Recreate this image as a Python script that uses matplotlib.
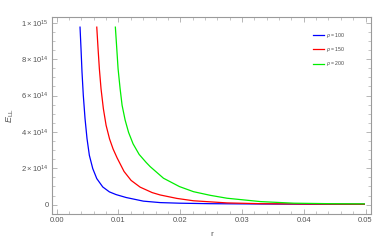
import matplotlib
matplotlib.use("Agg")
import matplotlib.pyplot as plt
from matplotlib.ticker import MultipleLocator, FixedLocator

plt.rcParams['font.family'] = ['Liberation Sans', 'DejaVu Sans']
plt.rcParams['mathtext.fontset'] = 'custom'
plt.rcParams['mathtext.rm'] = 'Liberation Sans'
plt.rcParams['mathtext.it'] = 'Liberation Sans:italic'

# data (E in units of 1e15)
r_100 = [0.00378, 0.00394, 0.0041, 0.00431, 0.00459, 0.00491, 0.00529, 0.00584, 0.00649, 0.00746,
         0.00853, 0.00962, 0.01124, 0.01404, 0.01675, 0.01988, 0.02486, 0.033, 0.0411, 0.0498]
E_100 = [0.976, 0.857, 0.729, 0.601, 0.473, 0.363, 0.271, 0.198, 0.143, 0.097,
         0.070, 0.055, 0.039, 0.019, 0.011, 0.0077, 0.005, 0.0033, 0.0022, 0.0016]

r_150 = [0.00649, 0.0067, 0.00691, 0.00718, 0.00756, 0.008, 0.00856, 0.00913, 0.00978, 0.01091,
         0.01205, 0.01351, 0.01546, 0.01675, 0.01946, 0.02215, 0.02757, 0.033, 0.0395, 0.0498]
E_150 = [0.976, 0.857, 0.747, 0.637, 0.527, 0.436, 0.361, 0.306, 0.257, 0.182,
         0.133, 0.096, 0.066, 0.053, 0.034, 0.021, 0.0093, 0.005, 0.0033, 0.0022]

r_200 = [0.0095, 0.00973, 0.00994, 0.01027, 0.01059, 0.01108, 0.01164, 0.01237, 0.01335, 0.01448,
         0.01513, 0.01729, 0.01988, 0.02215, 0.02486, 0.02757, 0.033, 0.0384, 0.0443, 0.0498]
E_200 = [0.976, 0.857, 0.747, 0.637, 0.546, 0.465, 0.397, 0.334, 0.276, 0.232,
         0.209, 0.145, 0.099, 0.071, 0.051, 0.035, 0.0165, 0.0077, 0.005, 0.004]

labels = [r"$\rho$ = 100", r"$\rho$ = 150", r"$\rho$ = 200"]
colors = ["#0000ff", "#ff0000", "#00ee00"]
yticks = [0, 0.2, 0.4, 0.6, 0.8, 1.0]
yticklabels = ["0", r"$2\times10^{14}$", r"$4\times10^{14}$", r"$6\times10^{14}$", r"$8\times10^{14}$", r"$1\times10^{15}$"]
xticks = [0.00, 0.01, 0.02, 0.03, 0.04, 0.05]
xticklabels = ["0.00", "0.01", "0.02", "0.03", "0.04", "0.05"]

fig = plt.figure(figsize=(3.89, 2.44), dpi=100)
ax = fig.add_axes([0.133, 0.122, 0.821, 0.807])

for rr, ee, lab, c in zip([r_100, r_150, r_200], [E_100, E_150, E_200], labels, colors):
    ax.plot(rr, [v * 1e15 for v in ee], color=c, lw=0.9, label=lab,
            solid_joinstyle='round')

ax.set_xlim(-0.0008, 0.0509)
ax.set_ylim(-0.053e15, 1.03e15)

ax.xaxis.set_major_locator(FixedLocator(xticks))
ax.set_xticklabels(xticklabels)
ax.xaxis.set_minor_locator(MultipleLocator(0.002))
ax.yaxis.set_major_locator(FixedLocator([v * 1e15 for v in yticks]))
ax.set_yticklabels(yticklabels)
ax.yaxis.set_minor_locator(MultipleLocator(0.05e15))

gray = "#9a9a9a"
for sp in ax.spines.values():
    sp.set_color(gray)
    sp.set_linewidth(0.8)
ax.tick_params(which='both', direction='in', top=True, right=True, colors=gray, labelcolor="#555555", labelsize=5.5, pad=2)
ax.tick_params(which='major', length=3.5, width=0.5)
ax.tick_params(which='minor', length=2, width=0.4)

ax.set_xlabel("r", fontsize=6, color="#555555", labelpad=5)
ax.set_ylabel(r"$E_{\mathrm{LL}}$", fontsize=6.5, color="#555555", labelpad=4)

leg = ax.legend(loc='upper left', bbox_to_anchor=(0.818, 0.93), frameon=False, fontsize=3.7,
                handlelength=2.1, handletextpad=0.5, labelspacing=1.0, borderpad=0,
                borderaxespad=0, labelcolor="#444444")

fig.savefig("out.png", dpi=100)
